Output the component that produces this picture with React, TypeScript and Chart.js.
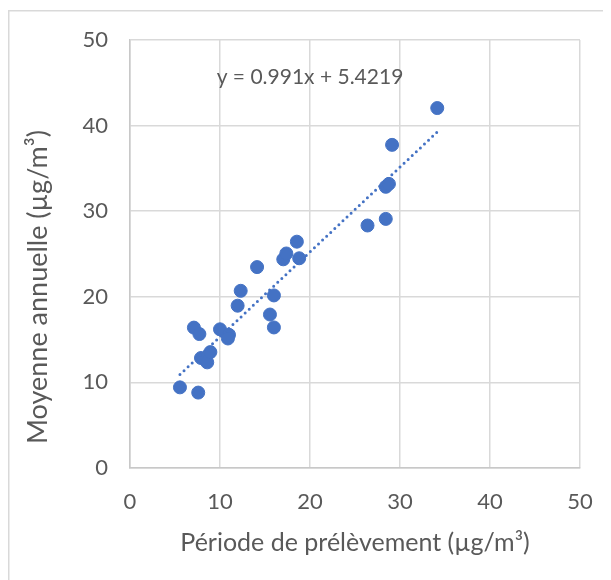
import React, { useEffect, useRef } from "react";
import { Chart, registerables } from "chart.js";

Chart.register(...registerables);

// Data
const xValues = [5.55, 7.58, 7.1, 7.71, 7.89, 8.58, 8.93, 10.0, 11.0, 10.88, 11.96, 12.3, 14.12, 15.55, 15.99, 15.99, 17.03, 17.37, 18.54, 18.8, 26.39, 28.42, 28.42, 28.77, 29.12, 34.14];
const yValues = [9.42, 8.81, 16.4, 15.65, 12.85, 12.34, 13.54, 16.2, 15.56, 15.13, 18.96, 20.7, 23.47, 17.93, 16.42, 20.16, 24.38, 25.06, 26.44, 24.5, 28.33, 29.1, 32.85, 33.19, 37.75, 42.05];

const trendSlope = 0.991;
const trendIntercept = 5.4219;
const equationLabel = "y = 0.991x + 5.4219";
const equationAnchor = { x: 20, y: 45.6 };

const xTitle = "Période de prélèvement (µg/m³)";
const yTitle = "Moyenne annuelle (µg/m³)";
const axisMin = 0;
const axisMax = 50;
const axisStep = 10;

const BLUE = "#4472C4";
const TEXT = "#595959";
const GRID = "#d9d9d9";
const FONT = "Lato, 'Open Sans', sans-serif";

export default function App() {
  const canvasRef = useRef<HTMLCanvasElement | null>(null);

  useEffect(() => {
    document.documentElement.style.overflow = "hidden";
    document.body.style.overflow = "hidden";
    const canvas = canvasRef.current;
    if (!canvas) return;

    const points = xValues.map((x, i) => ({ x, y: yValues[i] }));
    const minX = Math.min(...xValues);
    const maxX = Math.max(...xValues);
    const trend = [
      { x: minX, y: trendSlope * minX + trendIntercept },
      { x: maxX, y: trendSlope * maxX + trendIntercept },
    ];

    const framePlugin = {
      id: "frame",
      beforeDraw(chart: any) {
        const { ctx, width, height } = chart;
        ctx.save();
        ctx.strokeStyle = "#d9d9d9";
        ctx.lineWidth = 1.5;
        ctx.beginPath();
        ctx.moveTo(0.75, height);
        ctx.lineTo(0.75, 2.75);
        ctx.lineTo(width, 2.75);
        ctx.stroke();
        ctx.restore();
      },
    };

    const textPlugin = {
      id: "customText",
      afterDraw(chart: any) {
        const { ctx, chartArea, scales } = chart;
        ctx.save();
        ctx.fillStyle = TEXT;
        ctx.textAlign = "center";
        ctx.textBaseline = "middle";
        ctx.font = `21px ${FONT}`;
        ctx.fillText(
          equationLabel,
          scales.x.getPixelForValue(equationAnchor.x),
          scales.y.getPixelForValue(equationAnchor.y)
        );
        ctx.font = `25px ${FONT}`;
        ctx.fillText(xTitle, (chartArea.left + chartArea.right) / 2, chartArea.bottom + 75);
        ctx.font = `27px ${FONT}`;
        ctx.translate(30, (chartArea.top + chartArea.bottom) / 2 + 33);
        ctx.rotate(-Math.PI / 2);
        ctx.fillText(yTitle, 0, 0);
        ctx.restore();
      },
    };

    const chart = new Chart(canvas, {
      type: "scatter",
      data: {
        datasets: [
          {
            data: points,
            backgroundColor: BLUE,
            borderColor: BLUE,
            borderWidth: 1,
            pointRadius: 6.5,
            pointHoverRadius: 6.5,
            order: 2,
          },
          {
            type: "line",
            data: trend,
            borderColor: BLUE,
            borderWidth: 3,
            borderDash: [0, 5.6],
            borderCapStyle: "round",
            pointRadius: 0,
            fill: false,
            order: 1,
          } as any,
        ],
      },
      options: {
        animation: false,
        responsive: false,
        maintainAspectRatio: false,
        layout: { padding: { top: 32, right: 31, left: 0, bottom: 0 } },
        plugins: { legend: { display: false }, tooltip: { enabled: false } },
        scales: {
          x: {
            type: "linear",
            min: axisMin,
            max: axisMax,
            ticks: { stepSize: axisStep, color: TEXT, font: { family: FONT, size: 22 }, padding: 21 },
            grid: { color: GRID, lineWidth: 1.5, drawTicks: false },
            border: { color: "#c8c8c8", width: 1.5 },
            afterFit: (s: any) => {
              s.height = 112;
              s.paddingLeft = 0;
              s.paddingRight = 0;
            },
          },
          y: {
            type: "linear",
            min: axisMin,
            max: axisMax,
            ticks: { stepSize: axisStep, color: TEXT, font: { family: FONT, size: 22 }, padding: 22 },
            grid: { color: GRID, lineWidth: 1.5, drawTicks: false },
            border: { color: "#c8c8c8", width: 1.5 },
            afterFit: (s: any) => {
              s.width = 122;
              s.paddingTop = 0;
              s.paddingBottom = 0;
            },
          },
        },
      },
      plugins: [framePlugin, textPlugin],
    });

    return () => chart.destroy();
  }, []);

  return (
    <div style={{ position: "relative", width: 603, height: 572 }}>
      <canvas
        ref={canvasRef}
        width={603}
        height={572}
        style={{ display: "block", width: 603, height: 572 }}
      />
    </div>
  );
}
